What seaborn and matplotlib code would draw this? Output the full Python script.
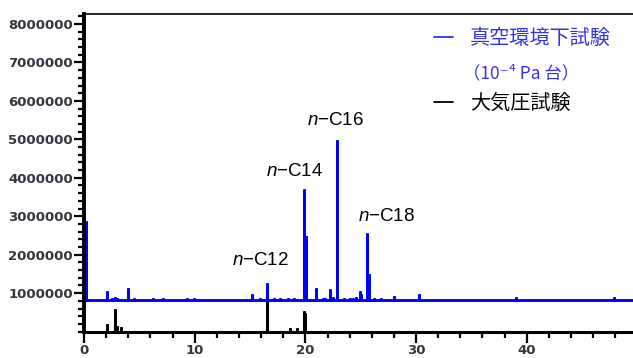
import matplotlib
matplotlib.use("Agg")
import matplotlib.pyplot as plt
import seaborn as sns
from matplotlib.lines import Line2D
from matplotlib.ticker import MultipleLocator

# vacuum test (blue): baseline plus peaks (retention time, height)
vac_baseline = 810000
vac_rt = [0.2, 2.05, 2.5, 2.8, 3.0, 4.0, 4.5, 6.2, 7.1, 9.3, 9.9,
          15.2, 15.9, 16.55, 17.2, 17.7, 18.4, 19.0, 19.2,
          19.88, 20.02, 21.0, 21.55, 21.8, 22.2, 22.5, 22.88,
          23.5, 24.0, 24.3, 24.6, 24.9, 25.0, 25.6, 25.75,
          26.2, 26.8, 28.05, 30.25, 32.5, 39.05, 47.9]
vac_height = [2850000, 1030000, 860000, 870000, 860000, 1120000, 840000, 840000, 840000, 840000, 840000,
              950000, 840000, 1230000, 850000, 840000, 840000, 860000, 830000,
              3680000, 2460000, 1100000, 860000, 860000, 1070000, 880000, 4970000,
              850000, 840000, 860000, 870000, 1040000, 950000, 2530000, 1460000,
              840000, 840000, 890000, 940000, 830000, 880000, 880000]

# atmospheric pressure test (black)
atm_baseline = 0
atm_rt = [2.05, 2.8, 2.95, 3.3, 16.55, 18.6, 19.2, 19.88, 20.0]
atm_height = [180000, 570000, 110000, 100000, 810000, 60000, 60000, 500000, 450000]

x_end = 49.6
x_ticks = [0, 10, 20, 30, 40]
y_ticks = [1000000, 2000000, 3000000, 4000000, 5000000, 6000000, 7000000, 8000000]
y_ticklabels = [str(v) for v in y_ticks]

peak_names = ["C12", "C14", "C16", "C18"]
peak_label_x = [15.9, 19.05, 22.75, 27.3]
peak_label_y = [1850000, 4160000, 5480000, 2990000]

legend_vac = "真空環境下試験"
legend_vac_sub = "（10⁻⁴ Pa 台）"
legend_atm = "大気圧試験"


def spike_trace(rt, height, base, end):
    xs, ys = [0.0], [base]
    for t, h in zip(rt, height):
        xs += [t, t, t]
        ys += [base, h, base]
    xs.append(end)
    ys.append(base)
    return xs, ys


sns.set_style("ticks")
plt.rcParams["mathtext.fontset"] = "custom"
plt.rcParams["mathtext.it"] = "Liberation Sans:italic"
plt.rcParams["mathtext.rm"] = "Liberation Sans"

W, H = 633, 358
fig = plt.figure(figsize=(W / 100, H / 100), dpi=100)
ax = fig.add_axes([84 / W, 1 - 332 / H, 1 - 84 / W, (332 - 14) / H])

vx, vy = spike_trace(vac_rt, vac_height, vac_baseline, x_end)
ax_x, ax_y = spike_trace(atm_rt, atm_height, atm_baseline, x_end)
sns.lineplot(x=ax_x, y=ax_y, sort=False, estimator=None, color="black",
             linewidth=2.1, ax=ax)
sns.lineplot(x=vx, y=vy, sort=False, estimator=None, color="#0000ff",
             linewidth=2.1, ax=ax)

ax.set_xlim(0, x_end)
ax.set_ylim(-10000, 8260000)

ax.set_xticks(x_ticks)
ax.set_xticklabels([str(v) for v in x_ticks])
ax.xaxis.set_minor_locator(MultipleLocator(2))
ax.set_yticks(y_ticks)
ax.set_yticklabels(y_ticklabels)
ax.yaxis.set_minor_locator(MultipleLocator(200000))

tick_color = "#3a3240"
ax.tick_params(axis="both", which="major", direction="out", color="black",
               labelcolor=tick_color, labelsize=9.5, width=1.6)
ax.tick_params(axis="y", which="major", length=7, pad=1)
ax.tick_params(axis="x", which="major", length=8, pad=1)
ax.tick_params(axis="both", which="minor", direction="out", length=4, width=1.6, color="black")
for lab in ax.get_xticklabels() + ax.get_yticklabels():
    lab.set_fontweight("bold")
    lab.set_family("DejaVu Sans")

ax.spines["right"].set_visible(False)
ax.spines["left"].set_linewidth(2.8)
ax.spines["bottom"].set_linewidth(2.2)
ax.spines["top"].set_linewidth(1.2)
for s in ax.spines.values():
    s.set_color("black")
ax.set_xlabel("")
ax.set_ylabel("")

for name, lx, ly in zip(peak_names, peak_label_x, peak_label_y):
    ax.text(lx, ly, r"$n$" + "−" + name, ha="center", va="center",
            fontsize=13.5, color="black", family="Liberation Sans")

# legend drawn as text and short lines
cjk = ["Noto Sans CJK JP", "DejaVu Sans"]
blue_txt = "#3333ee"
fig.add_artist(Line2D([434 / W, 453 / W], [1 - 37 / H, 1 - 37 / H],
                      color=blue_txt, linewidth=1.3, transform=fig.transFigure))
fig.add_artist(Line2D([434 / W, 453 / W], [1 - 102 / H, 1 - 102 / H],
                      color="black", linewidth=1.3, transform=fig.transFigure))
fig.text(470 / W, 1 - 38 / H, legend_vac, color=blue_txt, fontsize=14.5, family=cjk, va="center")
fig.text(463 / W, 1 - 73 / H, legend_vac_sub, color=blue_txt, fontsize=12.5, family=cjk, va="center")
fig.text(470 / W, 1 - 103 / H, legend_atm, color="black", fontsize=14.5, family=cjk, va="center")

fig.savefig("out.png", dpi=100, facecolor="white")
